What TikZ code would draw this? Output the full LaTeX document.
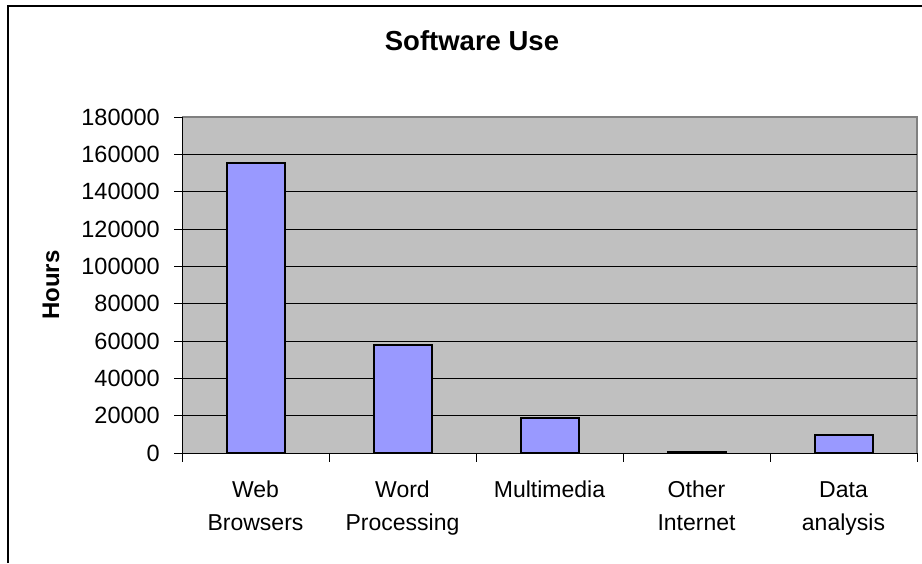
\documentclass[tikz,border=0pt]{standalone}
\usepackage{fontspec}
\setmainfont{Liberation Sans}
\definecolor{barblue}{HTML}{9999FF}
\definecolor{plotgray}{HTML}{C0C0C0}
\definecolor{edgegray}{HTML}{808080}
\tikzset{
  bar/.style={draw=black, line width=2pt, fill=barblue},
  gridline/.style={black, line width=1pt},
  ticklabel/.style={anchor=east, inner sep=0pt, font=\fontsize{23.5}{28}\selectfont},
  catlabel/.style={anchor=north, inner sep=0pt, align=center, font=\fontsize{23}{33}\selectfont}
}

\begin{document}
\begin{tikzpicture}[x=1pt, y=-1pt]
    \useasboundingbox (0,0) rectangle (922,563);
    	\draw[line width=2pt] (8,563)--(8,6)--(922,6);

      \fill[plotgray] (182,117) rectangle (917,453);
      \draw[edgegray, line width=1.5pt] (182,117)--(917,117)--(917,453);
      \foreach \k in {20,40,...,160}
        \draw[gridline] (182,{453-\k*1.86667})--(917,{453-\k*1.86667});

      % value axis
      \draw[line width=1pt] (182,117)--(182,453);
      \foreach \k in {0,20,...,180}
        \draw[line width=1pt] (174,{453-\k*1.86667})--(182,{453-\k*1.86667});
      \foreach \k in {20,40,...,180}
        \node[ticklabel] (tick\k) at (160,{453-\k*1.86667}) {\k000};
      \node[ticklabel] (tick0) at (160,453) {0};

      % bars
      \foreach \c/\v in {255.5/155.2, 402.5/57.7, 549.5/18.7, 696.5/0.6, 843.5/9.6}
        \draw[bar] ({\c-29},453) rectangle ({\c+29},{453-\v*1.86667});

      % category axis
      \draw[line width=1pt] (182,453)--(917,453);
      \foreach \x in {182,329,476,623,770,917}
        \draw[line width=1pt] (\x,453)--(\x,462);

      \node[catlabel] (web)   at (255.5,481) {Web\\Browsers};
      \node[catlabel] (word)  at (402.5,481) {Word\\Processing};
      \node[catlabel] (multi) at (549.5,481) {Multimedia};
      \node[catlabel] (other) at (696.5,481) {Other\\Internet};
      \node[catlabel] (data)  at (843.5,481) {Data\\analysis};

      \node[font=\bfseries\fontsize{27.5}{33}\selectfont, inner sep=0pt] (title) at (472,41) {Software Use};
      \node[font=\bfseries\fontsize{24}{28}\selectfont, inner sep=0pt, rotate=90] (hours) at (51,285) {Hours};
    \end{tikzpicture}
\end{document}
